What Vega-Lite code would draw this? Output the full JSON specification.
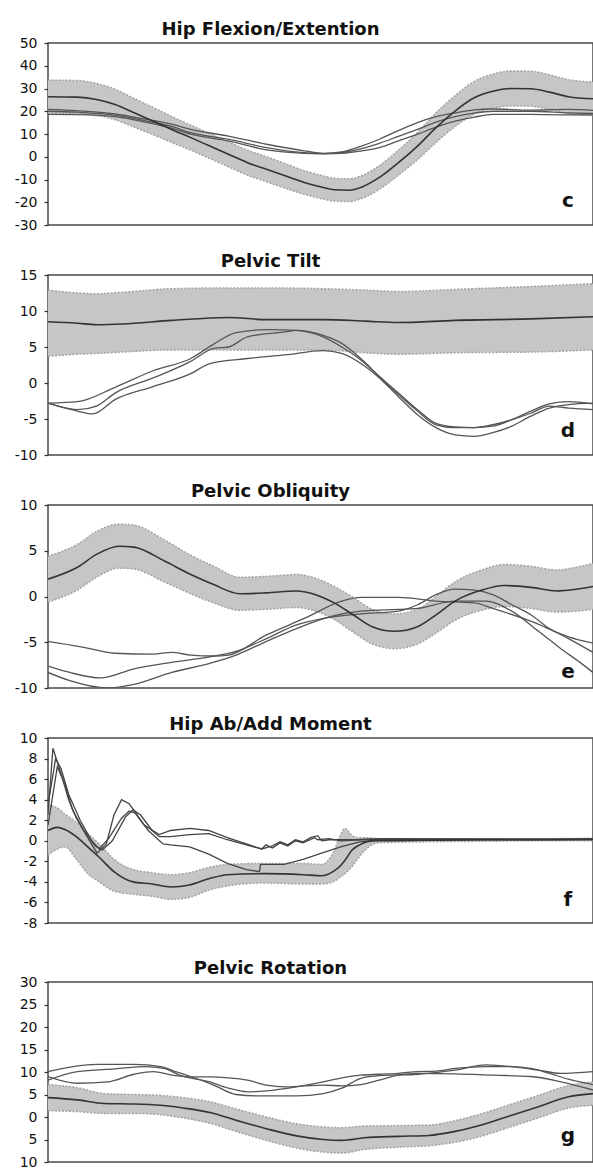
{
"$schema": "https://vega.github.io/schema/vega-lite/v6.json",
"padding": {"left": 0, "top": 20, "right": 0, "bottom": 0},
"config": {
  "view": {"stroke": "#4a4a4a", "strokeWidth": 1.5},
  "font": "DejaVu Sans",
  "title": {"font": "DejaVu Sans", "fontSize": 18, "fontWeight": "bold", "color": "#111111", "offset": -3, "dx": -50, "frame": "group", "anchor": "middle"},
  "axisY": {"domain": false, "grid": false, "ticks": true, "tickSize": 4, "tickColor": "#333333", "tickWidth": 1.2, "labelFont": "DejaVu Sans", "labelFontSize": 14, "labelColor": "#111111", "labelPadding": 7, "minExtent": 47, "maxExtent": 47, "labelOverlap": false, "labelFlush": false, "labelBound": false}
},
"datasets": {
  "b1": [
    {"x":0,"m":26.4,"lo":19.1,"hi":33.7},{"x":5.4,"m":26.2,"lo":18.9,"hi":33.5},{"x":8.9,"m":25.2,"lo":18.2,"hi":32.2},{"x":12.3,"m":23,"lo":16.3,"hi":29.7},{"x":15.8,"m":19.3,"lo":13,"hi":25.6},{"x":19.3,"m":15.7,"lo":9.7,"hi":21.7},{"x":22.7,"m":12,"lo":6.3,"hi":17.7},{"x":26.2,"m":8.4,"lo":2.9,"hi":13.9},{"x":29.7,"m":4.7,"lo":-0.8,"hi":10.2},{"x":33.1,"m":1.1,"lo":-4.4,"hi":6.6},{"x":36.6,"m":-2.6,"lo":-8.1,"hi":2.9},{"x":40.1,"m":-5.5,"lo":-11,"hi":0},{"x":43.5,"m":-8.4,"lo":-13.8,"hi":-3},{"x":47,"m":-11.3,"lo":-16.5,"hi":-6.1},{"x":50.5,"m":-13.5,"lo":-18.6,"hi":-8.4},{"x":52.5,"m":-14.5,"lo":-19.5,"hi":-9.5},{"x":55.3,"m":-14.7,"lo":-19.7,"hi":-9.7},{"x":57.4,"m":-13.5,"lo":-18.5,"hi":-8.5},{"x":60.8,"m":-9.1,"lo":-14.3,"hi":-3.9},{"x":64.3,"m":-2.6,"lo":-8.1,"hi":2.9},{"x":67.8,"m":4.7,"lo":-1.3,"hi":10.7},{"x":71.2,"m":12.8,"lo":6.3,"hi":19.3},{"x":74.7,"m":20.1,"lo":13.3,"hi":26.9},{"x":78.2,"m":25.9,"lo":18.7,"hi":33.1},{"x":81.6,"m":28.8,"lo":21.3,"hi":36.3},{"x":85.1,"m":30,"lo":22.3,"hi":37.7},{"x":88.6,"m":29.9,"lo":22.2,"hi":37.6},{"x":92,"m":28.4,"lo":20.8,"hi":36},{"x":95.5,"m":26.4,"lo":18.9,"hi":33.9},{"x":100,"m":25.5,"lo":18.1,"hi":32.9}
  ],
  "p1": [
    {"x":0,"s":"A","v":20.8},{"x":5.4,"s":"A","v":20.2},{"x":12.3,"s":"A","v":18.8},{"x":17.9,"s":"A","v":16.5},{"x":22.7,"s":"A","v":14.3},{"x":26.2,"s":"A","v":12},{"x":33.1,"s":"A","v":9.1},{"x":40.1,"s":"A","v":5.5},{"x":47,"s":"A","v":2.6},{"x":50.5,"s":"A","v":1.5},{"x":53.9,"s":"A","v":2.1},{"x":57.4,"s":"A","v":4.6},{"x":60.8,"s":"A","v":7.7},{"x":64.3,"s":"A","v":11.5},{"x":67.8,"s":"A","v":15},{"x":71.2,"s":"A","v":17.6},{"x":74.7,"s":"A","v":19.3},{"x":78.2,"s":"A","v":20.6},{"x":81.6,"s":"A","v":21},{"x":88.6,"s":"A","v":20.5},{"x":95.5,"s":"A","v":20.8},{"x":100,"s":"A","v":20.4},
    {"x":0,"s":"B","v":20},{"x":5.4,"s":"B","v":19.6},{"x":12.3,"s":"B","v":18.3},{"x":17.9,"s":"B","v":15.8},{"x":22.7,"s":"B","v":13.3},{"x":26.2,"s":"B","v":10.6},{"x":33.1,"s":"B","v":7.7},{"x":40.1,"s":"B","v":4},{"x":47,"s":"B","v":1.8},{"x":50.5,"s":"B","v":1.4},{"x":53.9,"s":"B","v":1.8},{"x":57.4,"s":"B","v":3.5},{"x":60.8,"s":"B","v":5.9},{"x":64.3,"s":"B","v":9},{"x":67.8,"s":"B","v":12},{"x":71.2,"s":"B","v":15.2},{"x":74.7,"s":"B","v":17.6},{"x":78.2,"s":"B","v":19.2},{"x":81.6,"s":"B","v":20},{"x":88.6,"s":"B","v":20},{"x":95.5,"s":"B","v":19.3},{"x":100,"s":"B","v":19},
    {"x":0,"s":"C","v":18.6},{"x":5.4,"s":"C","v":18.5},{"x":12.3,"s":"C","v":17.6},{"x":17.9,"s":"C","v":15.2},{"x":22.7,"s":"C","v":12.6},{"x":26.2,"s":"C","v":9.9},{"x":33.1,"s":"C","v":7},{"x":40.1,"s":"C","v":3},{"x":47,"s":"C","v":1.5},{"x":50.5,"s":"C","v":1.3},{"x":53.9,"s":"C","v":1.5},{"x":57.4,"s":"C","v":2.5},{"x":60.8,"s":"C","v":4},{"x":64.3,"s":"C","v":7},{"x":67.8,"s":"C","v":9.9},{"x":71.2,"s":"C","v":13},{"x":74.7,"s":"C","v":15.7},{"x":78.2,"s":"C","v":17.4},{"x":81.6,"s":"C","v":18.6},{"x":88.6,"s":"C","v":18.6},{"x":95.5,"s":"C","v":18.4},{"x":100,"s":"C","v":18.4}
  ],
  "b2": [
    {"x":0,"m":8.5,"lo":3.7,"hi":12.9},{"x":5.4,"m":8.3,"lo":4,"hi":12.5},{"x":8.9,"m":8.1,"lo":4.1,"hi":12.4},{"x":13.7,"m":8.2,"lo":4.3,"hi":12.6},{"x":22.7,"m":8.7,"lo":4.6,"hi":13.1},{"x":33.1,"m":9.1,"lo":4.6,"hi":13.2},{"x":40.1,"m":8.8,"lo":4.6,"hi":13.2},{"x":50.5,"m":8.8,"lo":4.6,"hi":13.1},{"x":58.1,"m":8.6,"lo":4.2,"hi":12.9},{"x":64.3,"m":8.4,"lo":4,"hi":12.7},{"x":74.7,"m":8.7,"lo":4.2,"hi":13},{"x":88.6,"m":8.9,"lo":4.3,"hi":13.4},{"x":100,"m":9.2,"lo":4.6,"hi":13.8}
  ],
  "p2": [
    {"x":0,"s":"A","v":-2.8},{"x":5.4,"s":"A","v":-2.6},{"x":12.3,"s":"A","v":-0.6},{"x":19.3,"s":"A","v":1.7},{"x":26.2,"s":"A","v":3.4},{"x":30.4,"s":"A","v":5.4},{"x":34.5,"s":"A","v":7},{"x":40.1,"s":"A","v":7.4},{"x":45.6,"s":"A","v":7.3},{"x":50.5,"s":"A","v":6.4},{"x":53.9,"s":"A","v":5},{"x":57.4,"s":"A","v":3.2},{"x":60.8,"s":"A","v":0.9},{"x":64.3,"s":"A","v":-1.4},{"x":67.8,"s":"A","v":-3.7},{"x":71.2,"s":"A","v":-5.6},{"x":74.7,"s":"A","v":-6.1},{"x":78.2,"s":"A","v":-6.2},{"x":81.6,"s":"A","v":-6},{"x":85.1,"s":"A","v":-5.1},{"x":88.6,"s":"A","v":-3.9},{"x":92,"s":"A","v":-2.9},{"x":95.5,"s":"A","v":-2.6},{"x":100,"s":"A","v":-2.9},
    {"x":0,"s":"B","v":-2.8},{"x":5.4,"s":"B","v":-3.7},{"x":8.9,"s":"B","v":-3.2},{"x":12.3,"s":"B","v":-1.4},{"x":19.3,"s":"B","v":0.7},{"x":26.2,"s":"B","v":3},{"x":30.4,"s":"B","v":4.8},{"x":33.1,"s":"B","v":5},{"x":36.6,"s":"B","v":6.4},{"x":43.5,"s":"B","v":7.1},{"x":45.6,"s":"B","v":7.3},{"x":50.5,"s":"B","v":6.6},{"x":53.9,"s":"B","v":5.5},{"x":57.4,"s":"B","v":3.4},{"x":60.8,"s":"B","v":0.9},{"x":64.3,"s":"B","v":-1.6},{"x":67.8,"s":"B","v":-3.9},{"x":71.2,"s":"B","v":-5.8},{"x":74.7,"s":"B","v":-6.2},{"x":78.2,"s":"B","v":-6.2},{"x":81.6,"s":"B","v":-5.8},{"x":88.6,"s":"B","v":-4.2},{"x":92,"s":"B","v":-3.2},{"x":95.5,"s":"B","v":-3.5},{"x":100,"s":"B","v":-3.7},
    {"x":0,"s":"C","v":-2.8},{"x":5.4,"s":"C","v":-3.9},{"x":8.2,"s":"C","v":-4.3},{"x":12.3,"s":"C","v":-2.3},{"x":19.3,"s":"C","v":-0.5},{"x":26.2,"s":"C","v":1.3},{"x":29.7,"s":"C","v":2.7},{"x":36.6,"s":"C","v":3.4},{"x":43.5,"s":"C","v":3.9},{"x":50.5,"s":"C","v":4.5},{"x":53.9,"s":"C","v":4.1},{"x":57.4,"s":"C","v":2.7},{"x":60.8,"s":"C","v":0.7},{"x":64.3,"s":"C","v":-1.9},{"x":67.8,"s":"C","v":-4.4},{"x":71.2,"s":"C","v":-6.2},{"x":74.7,"s":"C","v":-7.2},{"x":78.2,"s":"C","v":-7.4},{"x":81.6,"s":"C","v":-6.9},{"x":85.1,"s":"C","v":-6},{"x":88.6,"s":"C","v":-4.6},{"x":92,"s":"C","v":-3.5},{"x":95.5,"s":"C","v":-3},{"x":100,"s":"C","v":-2.8}
  ],
  "b3": [
    {"x":0,"m":1.9,"lo":-0.6,"hi":4.4},{"x":5.4,"m":3.2,"lo":0.7,"hi":5.7},{"x":8.9,"m":4.6,"lo":2.1,"hi":7.1},{"x":13,"m":5.5,"lo":3.1,"hi":7.9},{"x":15.8,"m":5.4,"lo":3,"hi":7.8},{"x":21.3,"m":3.9,"lo":1.6,"hi":6.2},{"x":26.2,"m":2.4,"lo":0.3,"hi":4.5},{"x":30.4,"m":1.3,"lo":-0.7,"hi":3.3},{"x":35.2,"m":0.3,"lo":-1.5,"hi":2.1},{"x":40.1,"m":0.4,"lo":-1.4,"hi":2.2},{"x":45.6,"m":0.6,"lo":-1.2,"hi":2.4},{"x":49.1,"m":0.2,"lo":-1.6,"hi":2},{"x":52.5,"m":-0.7,"lo":-2.5,"hi":1.1},{"x":56,"m":-2,"lo":-3.9,"hi":-0.1},{"x":59.5,"m":-3.3,"lo":-5.2,"hi":-1.4},{"x":63.6,"m":-3.8,"lo":-5.7,"hi":-1.9},{"x":67.8,"m":-3.3,"lo":-5.2,"hi":-1.4},{"x":71.2,"m":-2,"lo":-4,"hi":0},{"x":74.7,"m":-0.5,"lo":-2.6,"hi":1.6},{"x":79.6,"m":0.7,"lo":-1.5,"hi":2.9},{"x":83.7,"m":1.2,"lo":-1.1,"hi":3.5},{"x":88.6,"m":1,"lo":-1.3,"hi":3.3},{"x":93.4,"m":0.6,"lo":-1.7,"hi":2.9},{"x":96.9,"m":0.8,"lo":-1.6,"hi":3.2},{"x":100,"m":1.1,"lo":-1.4,"hi":3.6}
  ],
  "p3": [
    {"x":0,"s":"A","v":-4.9},{"x":6.1,"s":"A","v":-5.5},{"x":12.3,"s":"A","v":-6.2},{"x":19.3,"s":"A","v":-6.3},{"x":22.7,"s":"A","v":-6.1},{"x":26.2,"s":"A","v":-6.4},{"x":30.4,"s":"A","v":-6.5},{"x":33.1,"s":"A","v":-6.4},{"x":40.1,"s":"A","v":-4.2},{"x":47,"s":"A","v":-2.4},{"x":53.9,"s":"A","v":-0.5},{"x":57.4,"s":"A","v":-0.1},{"x":64.3,"s":"A","v":-0.1},{"x":71.2,"s":"A","v":-0.5},{"x":78.2,"s":"A","v":-0.7},{"x":81.6,"s":"A","v":-1.3},{"x":88.6,"s":"A","v":-2.7},{"x":95.5,"s":"A","v":-4.4},{"x":100,"s":"A","v":-5.1},
    {"x":0,"s":"B","v":-7.6},{"x":4,"s":"B","v":-8.3},{"x":9.6,"s":"B","v":-8.9},{"x":15.8,"s":"B","v":-7.9},{"x":22.7,"s":"B","v":-7.2},{"x":29.7,"s":"B","v":-6.6},{"x":34.5,"s":"B","v":-6},{"x":40.1,"s":"B","v":-4.6},{"x":45.6,"s":"B","v":-3.1},{"x":50.5,"s":"B","v":-2.4},{"x":57.4,"s":"B","v":-1.9},{"x":64.3,"s":"B","v":-1.6},{"x":67.8,"s":"B","v":-0.9},{"x":71.2,"s":"B","v":0.2},{"x":74.7,"s":"B","v":0.8},{"x":78.2,"s":"B","v":0.7},{"x":81.6,"s":"B","v":0.2},{"x":85.1,"s":"B","v":-0.9},{"x":88.6,"s":"B","v":-2},{"x":92,"s":"B","v":-3.5},{"x":95.5,"s":"B","v":-4.6},{"x":100,"s":"B","v":-6.1},
    {"x":0,"s":"C","v":-8.3},{"x":4,"s":"C","v":-9.2},{"x":10.9,"s":"C","v":-10},{"x":15.8,"s":"C","v":-9.6},{"x":22.7,"s":"C","v":-8.3},{"x":29.7,"s":"C","v":-7.3},{"x":34.5,"s":"C","v":-6.4},{"x":40.1,"s":"C","v":-4.9},{"x":45.6,"s":"C","v":-3.5},{"x":51.8,"s":"C","v":-2.2},{"x":57.4,"s":"C","v":-1.6},{"x":64.3,"s":"C","v":-1.4},{"x":67.8,"s":"C","v":-1.3},{"x":74.7,"s":"C","v":-0.5},{"x":80.3,"s":"C","v":-0.5},{"x":85.1,"s":"C","v":-1.6},{"x":90,"s":"C","v":-3.8},{"x":94.1,"s":"C","v":-5.7},{"x":97.6,"s":"C","v":-7.2},{"x":100,"s":"C","v":-8.3}
  ],
  "b4": [
    {"x":0,"m":1,"lo":-1.4,"hi":3.5},{"x":1.7,"m":1.3,"lo":-0.8,"hi":3.2},{"x":3.1,"m":1.1,"lo":-0.6,"hi":2.6},{"x":5.2,"m":0.4,"lo":-1.8,"hi":1.8},{"x":7.3,"m":-0.6,"lo":-3.2,"hi":0.7},{"x":9.4,"m":-1.6,"lo":-4,"hi":-0.3},{"x":12.1,"m":-3,"lo":-4.9,"hi":-1.8},{"x":15.6,"m":-4,"lo":-5.2,"hi":-2.8},{"x":19.1,"m":-4.2,"lo":-5.4,"hi":-3.1},{"x":22.5,"m":-4.5,"lo":-5.7,"hi":-3.3},{"x":26,"m":-4.3,"lo":-5.5,"hi":-3.1},{"x":29.5,"m":-3.7,"lo":-4.8,"hi":-2.6},{"x":32.9,"m":-3.3,"lo":-4.4,"hi":-2.3},{"x":39.8,"m":-3.2,"lo":-4.1,"hi":-2.2},{"x":46.8,"m":-3.3,"lo":-4.2,"hi":-2.2},{"x":50.2,"m":-3.4,"lo":-4.2,"hi":-2.3},{"x":52.3,"m":-3,"lo":-4,"hi":-1.2},{"x":53.7,"m":-2.4,"lo":-3.5,"hi":0.6},{"x":54.5,"m":-1.9,"lo":-3.2,"hi":1.2},{"x":55.8,"m":-0.9,"lo":-2.5,"hi":0.5},{"x":57.2,"m":-0.4,"lo":-1.5,"hi":0.3},{"x":58.6,"m":-0.1,"lo":-0.7,"hi":0.3},{"x":60.6,"m":0,"lo":-0.2,"hi":0.2},{"x":70,"m":0.05,"lo":-0.1,"hi":0.2},{"x":80,"m":0.1,"lo":-0.05,"hi":0.2},{"x":90,"m":0.1,"lo":0,"hi":0.2},{"x":100,"m":0.15,"lo":0,"hi":0.25}
  ],
  "p4": [
    {"x":0,"s":"A","v":2.5},{"x":0.9,"s":"A","v":9},{"x":2.4,"s":"A","v":6.5},{"x":3.8,"s":"A","v":4},{"x":5.2,"s":"A","v":2.2},{"x":7.3,"s":"A","v":0.3},{"x":9,"s":"A","v":-1.2},{"x":10.7,"s":"A","v":-0.3},{"x":12.1,"s":"A","v":2.5},{"x":13.5,"s":"A","v":4},{"x":14.9,"s":"A","v":3.6},{"x":17.7,"s":"A","v":1.5},{"x":20.4,"s":"A","v":0.6},{"x":22.5,"s":"A","v":1},{"x":26,"s":"A","v":1.2},{"x":29.5,"s":"A","v":1},{"x":32.9,"s":"A","v":0.3},{"x":36.4,"s":"A","v":-0.3},{"x":39.2,"s":"A","v":-0.8},{"x":41.2,"s":"A","v":-0.5},{"x":42.6,"s":"A","v":-0.1},{"x":44,"s":"A","v":-0.4},{"x":45.4,"s":"A","v":0.1},{"x":46.8,"s":"A","v":-0.1},{"x":48.2,"s":"A","v":0.3},{"x":49.5,"s":"A","v":0.5},{"x":50.2,"s":"A","v":0},{"x":51.6,"s":"A","v":0.1},{"x":55.8,"s":"A","v":0.1},{"x":60.6,"s":"A","v":0.15},{"x":100,"s":"A","v":0.15},
    {"x":0,"s":"B","v":3.5},{"x":1.4,"s":"B","v":8},{"x":2.4,"s":"B","v":7},{"x":3.8,"s":"B","v":4.5},{"x":5.9,"s":"B","v":2},{"x":8,"s":"B","v":0},{"x":9.4,"s":"B","v":-0.8},{"x":11.1,"s":"B","v":0.2},{"x":13.5,"s":"B","v":2.2},{"x":14.9,"s":"B","v":2.9},{"x":16,"s":"B","v":2.7},{"x":18.4,"s":"B","v":1},{"x":21.1,"s":"B","v":-0.3},{"x":22.5,"s":"B","v":-0.4},{"x":26,"s":"B","v":-0.6},{"x":29.5,"s":"B","v":-1.3},{"x":32.9,"s":"B","v":-2.2},{"x":36.4,"s":"B","v":-2.8},{"x":38.8,"s":"B","v":-3},{"x":39,"s":"B","v":-2.3},{"x":43.3,"s":"B","v":-2.3},{"x":46.8,"s":"B","v":-1.8},{"x":50.2,"s":"B","v":-1.2},{"x":53.7,"s":"B","v":-0.6},{"x":57.2,"s":"B","v":-0.1},{"x":60.6,"s":"B","v":0.1},{"x":100,"s":"B","v":0.1},
    {"x":0,"s":"C","v":1.5},{"x":1.7,"s":"C","v":7.2},{"x":3.1,"s":"C","v":5.5},{"x":4.5,"s":"C","v":3},{"x":6.6,"s":"C","v":1},{"x":8.7,"s":"C","v":-0.5},{"x":10,"s":"C","v":-0.9},{"x":11.8,"s":"C","v":0},{"x":14.2,"s":"C","v":2.3},{"x":15.6,"s":"C","v":3},{"x":17,"s":"C","v":2.5},{"x":19.1,"s":"C","v":1},{"x":20.4,"s":"C","v":0.4},{"x":22.5,"s":"C","v":0.4},{"x":26,"s":"C","v":0.6},{"x":29.5,"s":"C","v":0.7},{"x":32.9,"s":"C","v":0.1},{"x":36.4,"s":"C","v":-0.4},{"x":39.2,"s":"C","v":-0.8},{"x":40,"s":"C","v":-0.4},{"x":41.2,"s":"C","v":-0.7},{"x":42.6,"s":"C","v":-0.2},{"x":44,"s":"C","v":-0.5},{"x":45.4,"s":"C","v":0},{"x":46.8,"s":"C","v":-0.2},{"x":48.9,"s":"C","v":0.3},{"x":49.5,"s":"C","v":0.1},{"x":51.6,"s":"C","v":0.2},{"x":53.7,"s":"C","v":0},{"x":57.2,"s":"C","v":0.1},{"x":60.6,"s":"C","v":0.2},{"x":100,"s":"C","v":0.15}
  ],
  "b5": [
    {"x":0,"m":4.3,"lo":1.4,"hi":7.2},{"x":5.4,"m":3.8,"lo":1.2,"hi":6.5},{"x":10.3,"m":3,"lo":0.8,"hi":5.2},{"x":15.8,"m":2.9,"lo":0.8,"hi":5},{"x":20.7,"m":2.6,"lo":0.5,"hi":4.8},{"x":24.8,"m":2,"lo":-0.2,"hi":4.3},{"x":29.7,"m":1,"lo":-1.4,"hi":3.4},{"x":34.5,"m":-0.7,"lo":-3.2,"hi":1.8},{"x":40.1,"m":-2.6,"lo":-5.2,"hi":0},{"x":45.6,"m":-4.2,"lo":-6.9,"hi":-1.5},{"x":50.5,"m":-5,"lo":-7.8,"hi":-2.2},{"x":53.9,"m":-5.2,"lo":-8,"hi":-2.4},{"x":58.1,"m":-4.6,"lo":-7.2,"hi":-2},{"x":64.3,"m":-4.3,"lo":-6.7,"hi":-1.9},{"x":69.9,"m":-4.1,"lo":-6.4,"hi":-1.8},{"x":74.7,"m":-3.2,"lo":-5.6,"hi":-0.8},{"x":80.3,"m":-1.5,"lo":-4,"hi":1},{"x":85.1,"m":0.4,"lo":-2.1,"hi":2.9},{"x":90,"m":2.3,"lo":-0.2,"hi":4.8},{"x":95.5,"m":4.5,"lo":2,"hi":7},{"x":100,"m":5.2,"lo":2.6,"hi":7.8}
  ],
  "p5": [
    {"x":0,"s":"A","v":10.1},{"x":8.9,"s":"A","v":11.7},{"x":15.8,"s":"A","v":11.7},{"x":20.7,"s":"A","v":11.2},{"x":23.4,"s":"A","v":10.1},{"x":26.2,"s":"A","v":9},{"x":30.4,"s":"A","v":7.1},{"x":34.5,"s":"A","v":5},{"x":38.7,"s":"A","v":4.7},{"x":45.6,"s":"A","v":4.7},{"x":50.5,"s":"A","v":5.2},{"x":53.9,"s":"A","v":6.4},{"x":57.4,"s":"A","v":8.6},{"x":60.8,"s":"A","v":9.2},{"x":67.8,"s":"A","v":9.5},{"x":74.7,"s":"A","v":10.4},{"x":80.3,"s":"A","v":11.6},{"x":85.1,"s":"A","v":11.2},{"x":90,"s":"A","v":10.4},{"x":94.1,"s":"A","v":9.7},{"x":100,"s":"A","v":10.1},
    {"x":0,"s":"B","v":8.2},{"x":5.4,"s":"B","v":10.1},{"x":12.3,"s":"B","v":10.7},{"x":17.9,"s":"B","v":11.2},{"x":21.3,"s":"B","v":10.8},{"x":24.1,"s":"B","v":9.3},{"x":29.7,"s":"B","v":7.8},{"x":33.1,"s":"B","v":6.4},{"x":36.6,"s":"B","v":5.6},{"x":40.1,"s":"B","v":5.8},{"x":45.6,"s":"B","v":6.7},{"x":50.5,"s":"B","v":7.8},{"x":53.9,"s":"B","v":8.7},{"x":57.4,"s":"B","v":9.3},{"x":60.8,"s":"B","v":9.5},{"x":64.3,"s":"B","v":9.7},{"x":67.8,"s":"B","v":10.1},{"x":71.2,"s":"B","v":10.2},{"x":74.7,"s":"B","v":10.8},{"x":80.3,"s":"B","v":11.2},{"x":85.1,"s":"B","v":11.2},{"x":88.6,"s":"B","v":10.8},{"x":92,"s":"B","v":9.7},{"x":95.5,"s":"B","v":8.4},{"x":100,"s":"B","v":7.2},
    {"x":0,"s":"C","v":9},{"x":5.4,"s":"C","v":7.5},{"x":10.9,"s":"C","v":7.8},{"x":15.8,"s":"C","v":9.5},{"x":19.3,"s":"C","v":10.1},{"x":22.7,"s":"C","v":9.3},{"x":26.2,"s":"C","v":8.9},{"x":29.7,"s":"C","v":8.9},{"x":33.1,"s":"C","v":8.7},{"x":36.6,"s":"C","v":8.2},{"x":40.1,"s":"C","v":7.1},{"x":43.5,"s":"C","v":6.7},{"x":47,"s":"C","v":6.9},{"x":50.5,"s":"C","v":7.1},{"x":53.9,"s":"C","v":6.9},{"x":57.4,"s":"C","v":7.2},{"x":60.8,"s":"C","v":8.2},{"x":64.3,"s":"C","v":9.3},{"x":67.8,"s":"C","v":9.7},{"x":74.7,"s":"C","v":9.6},{"x":81.6,"s":"C","v":9.3},{"x":88.6,"s":"C","v":9},{"x":94.1,"s":"C","v":7.8},{"x":100,"s":"C","v":6}
  ]
},
"spacing": 19,
"vconcat": [
  {
    "width": 545, "height": 182,
    "title": {"text": "Hip Flexion/Extention"},
    "encoding": {
      "x": {"type": "quantitative", "scale": {"domain": [0, 100], "nice": false, "zero": false}, "axis": null},
      "y": {"type": "quantitative", "scale": {"domain": [-30, 50], "nice": false, "zero": false}, "title": null, "axis": {"values": [-30,-20,-10,0,10,20,30,40,50], "tickCount": 9, "labelOverlap": false, "labelExpr": "datum.value < 0 ? '-' + abs(datum.value) : '' + datum.value"}}
    },
    "layer": [
      {"data": {"name": "b1"}, "mark": {"type": "area", "interpolate": "monotone", "color": "#c6c6c6", "opacity": 1, "clip": true},
       "encoding": {"x": {"field": "x"}, "y": {"field": "lo"}, "y2": {"field": "hi"}}},
      {"data": {"name": "b1"}, "mark": {"type": "line", "interpolate": "monotone", "color": "#a3a3a3", "strokeDash": [2, 1.5], "strokeWidth": 1.5, "clip": true},
       "encoding": {"x": {"field": "x"}, "y": {"field": "hi"}}},
      {"data": {"name": "b1"}, "mark": {"type": "line", "interpolate": "monotone", "color": "#a3a3a3", "strokeDash": [2, 1.5], "strokeWidth": 1.5, "clip": true},
       "encoding": {"x": {"field": "x"}, "y": {"field": "lo"}}},
      {"data": {"name": "p1"}, "mark": {"type": "line", "interpolate": "monotone", "color": "#555555", "strokeWidth": 1.3, "clip": true},
       "encoding": {"x": {"field": "x"}, "y": {"field": "v"}, "detail": {"field": "s"}}},
      {"data": {"name": "b1"}, "mark": {"type": "line", "interpolate": "monotone", "color": "#333333", "strokeWidth": 1.6, "clip": true},
       "encoding": {"x": {"field": "x"}, "y": {"field": "m"}}},
      {"data": {"values": [{"lab": "c", "px": 95.4, "py": -22.3}]}, "mark": {"type": "text", "fontSize": 20, "fontWeight": "bold", "font": "DejaVu Sans", "baseline": "alphabetic", "align": "center", "color": "#111111"},
       "encoding": {"x": {"field": "px"}, "y": {"field": "py"}, "text": {"field": "lab"}}}
    ]
  },
  {
    "width": 545, "height": 180,
    "title": {"text": "Pelvic Tilt"},
    "encoding": {
      "x": {"type": "quantitative", "scale": {"domain": [0, 100], "nice": false, "zero": false}, "axis": null},
      "y": {"type": "quantitative", "scale": {"domain": [-10, 15], "nice": false, "zero": false}, "title": null, "axis": {"values": [-10,-5,0,5,10,15], "tickCount": 6, "labelOverlap": false, "labelExpr": "datum.value < 0 ? '-' + abs(datum.value) : '' + datum.value"}}
    },
    "layer": [
      {"data": {"name": "b2"}, "mark": {"type": "area", "interpolate": "monotone", "color": "#c6c6c6", "opacity": 1, "clip": true},
       "encoding": {"x": {"field": "x"}, "y": {"field": "lo"}, "y2": {"field": "hi"}}},
      {"data": {"name": "b2"}, "mark": {"type": "line", "interpolate": "monotone", "color": "#a3a3a3", "strokeDash": [2, 1.5], "strokeWidth": 1.5, "clip": true},
       "encoding": {"x": {"field": "x"}, "y": {"field": "hi"}}},
      {"data": {"name": "b2"}, "mark": {"type": "line", "interpolate": "monotone", "color": "#a3a3a3", "strokeDash": [2, 1.5], "strokeWidth": 1.5, "clip": true},
       "encoding": {"x": {"field": "x"}, "y": {"field": "lo"}}},
      {"data": {"name": "p2"}, "mark": {"type": "line", "interpolate": "monotone", "color": "#555555", "strokeWidth": 1.3, "clip": true},
       "encoding": {"x": {"field": "x"}, "y": {"field": "v"}, "detail": {"field": "s"}}},
      {"data": {"name": "b2"}, "mark": {"type": "line", "interpolate": "monotone", "color": "#333333", "strokeWidth": 1.6, "clip": true},
       "encoding": {"x": {"field": "x"}, "y": {"field": "m"}}},
      {"data": {"values": [{"lab": "d", "px": 95.4, "py": -7.5}]}, "mark": {"type": "text", "fontSize": 20, "fontWeight": "bold", "font": "DejaVu Sans", "baseline": "alphabetic", "align": "center", "color": "#111111"},
       "encoding": {"x": {"field": "px"}, "y": {"field": "py"}, "text": {"field": "lab"}}}
    ]
  },
  {
    "width": 545, "height": 183,
    "title": {"text": "Pelvic Obliquity"},
    "encoding": {
      "x": {"type": "quantitative", "scale": {"domain": [0, 100], "nice": false, "zero": false}, "axis": null},
      "y": {"type": "quantitative", "scale": {"domain": [-10, 10], "nice": false, "zero": false}, "title": null, "axis": {"values": [-10,-5,0,5,10], "tickCount": 5, "labelOverlap": false, "labelExpr": "datum.value < 0 ? '-' + abs(datum.value) : '' + datum.value"}}
    },
    "layer": [
      {"data": {"name": "b3"}, "mark": {"type": "area", "interpolate": "monotone", "color": "#c6c6c6", "opacity": 1, "clip": true},
       "encoding": {"x": {"field": "x"}, "y": {"field": "lo"}, "y2": {"field": "hi"}}},
      {"data": {"name": "b3"}, "mark": {"type": "line", "interpolate": "monotone", "color": "#a3a3a3", "strokeDash": [2, 1.5], "strokeWidth": 1.5, "clip": true},
       "encoding": {"x": {"field": "x"}, "y": {"field": "hi"}}},
      {"data": {"name": "b3"}, "mark": {"type": "line", "interpolate": "monotone", "color": "#a3a3a3", "strokeDash": [2, 1.5], "strokeWidth": 1.5, "clip": true},
       "encoding": {"x": {"field": "x"}, "y": {"field": "lo"}}},
      {"data": {"name": "p3"}, "mark": {"type": "line", "interpolate": "monotone", "color": "#555555", "strokeWidth": 1.3, "clip": true},
       "encoding": {"x": {"field": "x"}, "y": {"field": "v"}, "detail": {"field": "s"}}},
      {"data": {"name": "b3"}, "mark": {"type": "line", "interpolate": "monotone", "color": "#333333", "strokeWidth": 1.6, "clip": true},
       "encoding": {"x": {"field": "x"}, "y": {"field": "m"}}},
      {"data": {"values": [{"lab": "e", "px": 95.4, "py": -8.9}]}, "mark": {"type": "text", "fontSize": 20, "fontWeight": "bold", "font": "DejaVu Sans", "baseline": "alphabetic", "align": "center", "color": "#111111"},
       "encoding": {"x": {"field": "px"}, "y": {"field": "py"}, "text": {"field": "lab"}}}
    ]
  },
  {
    "width": 545, "height": 185,
    "title": {"text": "Hip Ab/Add Moment"},
    "encoding": {
      "x": {"type": "quantitative", "scale": {"domain": [0, 100], "nice": false, "zero": false}, "axis": {"labels": false, "ticks": false, "domain": false, "grid": false, "title": null, "minExtent": 16, "maxExtent": 16}},
      "y": {"type": "quantitative", "scale": {"domain": [-8, 10], "nice": false, "zero": false}, "title": null, "axis": {"values": [-8,-6,-4,-2,0,2,4,6,8,10], "tickCount": 10, "labelOverlap": false, "labelExpr": "datum.value < 0 ? '-' + abs(datum.value) : '' + datum.value"}}
    },
    "layer": [
      {"data": {"name": "b4"}, "mark": {"type": "area", "interpolate": "monotone", "color": "#c6c6c6", "opacity": 1, "clip": true},
       "encoding": {"x": {"field": "x"}, "y": {"field": "lo"}, "y2": {"field": "hi"}}},
      {"data": {"name": "b4"}, "mark": {"type": "line", "interpolate": "monotone", "color": "#a3a3a3", "strokeDash": [2, 1.5], "strokeWidth": 1.5, "clip": true},
       "encoding": {"x": {"field": "x"}, "y": {"field": "hi"}}},
      {"data": {"name": "b4"}, "mark": {"type": "line", "interpolate": "monotone", "color": "#a3a3a3", "strokeDash": [2, 1.5], "strokeWidth": 1.5, "clip": true},
       "encoding": {"x": {"field": "x"}, "y": {"field": "lo"}}},
      {"data": {"name": "p4"}, "mark": {"type": "line", "interpolate": "linear", "color": "#444444", "strokeWidth": 1.3, "clip": true},
       "encoding": {"x": {"field": "x"}, "y": {"field": "v"}, "detail": {"field": "s"}}},
      {"data": {"name": "b4"}, "mark": {"type": "line", "interpolate": "monotone", "color": "#333333", "strokeWidth": 1.6, "clip": true},
       "encoding": {"x": {"field": "x"}, "y": {"field": "m"}}},
      {"data": {"values": [{"lab": "f", "px": 95.4, "py": -6.3}]}, "mark": {"type": "text", "fontSize": 20, "fontWeight": "bold", "font": "DejaVu Sans", "baseline": "alphabetic", "align": "center", "color": "#111111"},
       "encoding": {"x": {"field": "px"}, "y": {"field": "py"}, "text": {"field": "lab"}}}
    ]
  },
  {
    "width": 545, "height": 180,
    "title": {"text": "Pelvic Rotation"},
    "encoding": {
      "x": {"type": "quantitative", "scale": {"domain": [0, 100], "nice": false, "zero": false}, "axis": null},
      "y": {"type": "quantitative", "scale": {"domain": [-10, 30], "nice": false, "zero": false}, "title": null, "axis": {"values": [-10,-5,0,5,10,15,20,25,30], "tickCount": 9, "labelOverlap": false, "labelExpr": "'' + abs(datum.value)"}}
    },
    "layer": [
      {"data": {"name": "b5"}, "mark": {"type": "area", "interpolate": "monotone", "color": "#c6c6c6", "opacity": 1, "clip": true},
       "encoding": {"x": {"field": "x"}, "y": {"field": "lo"}, "y2": {"field": "hi"}}},
      {"data": {"name": "b5"}, "mark": {"type": "line", "interpolate": "monotone", "color": "#a3a3a3", "strokeDash": [2, 1.5], "strokeWidth": 1.5, "clip": true},
       "encoding": {"x": {"field": "x"}, "y": {"field": "hi"}}},
      {"data": {"name": "b5"}, "mark": {"type": "line", "interpolate": "monotone", "color": "#a3a3a3", "strokeDash": [2, 1.5], "strokeWidth": 1.5, "clip": true},
       "encoding": {"x": {"field": "x"}, "y": {"field": "lo"}}},
      {"data": {"name": "p5"}, "mark": {"type": "line", "interpolate": "monotone", "color": "#555555", "strokeWidth": 1.3, "clip": true},
       "encoding": {"x": {"field": "x"}, "y": {"field": "v"}, "detail": {"field": "s"}}},
      {"data": {"name": "b5"}, "mark": {"type": "line", "interpolate": "monotone", "color": "#333333", "strokeWidth": 1.6, "clip": true},
       "encoding": {"x": {"field": "x"}, "y": {"field": "m"}}},
      {"data": {"values": [{"lab": "g", "px": 95.4, "py": -5.5}]}, "mark": {"type": "text", "fontSize": 20, "fontWeight": "bold", "font": "DejaVu Sans", "baseline": "alphabetic", "align": "center", "color": "#111111"},
       "encoding": {"x": {"field": "px"}, "y": {"field": "py"}, "text": {"field": "lab"}}}
    ]
  }
]
}
